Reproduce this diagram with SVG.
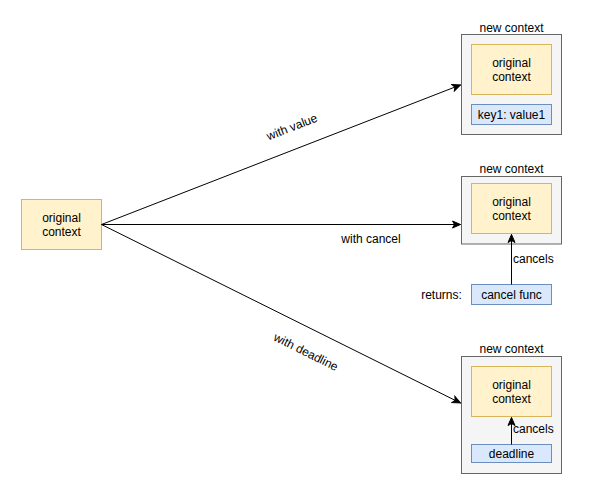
<svg xmlns="http://www.w3.org/2000/svg" width="599" height="491" viewBox="0 0 599 491">
<style>
text{font-family:"Liberation Sans",Arial,sans-serif;font-size:12px;fill:#000;text-anchor:middle}
.y{fill:#fff2cc;stroke:#d6b656;stroke-width:1}
.b{fill:#dae8fc;stroke:#6c8ebf;stroke-width:1}
.g{fill:#f5f5f5;stroke:#666666;stroke-width:1}
.e{stroke:#000;stroke-width:1;fill:none;marker-end:url(#ah)}
.l{text-anchor:start}
</style>
<defs>
<marker id="ah" markerUnits="userSpaceOnUse" markerWidth="10" markerHeight="10" viewBox="0 0 10 10" refX="9" refY="5" orient="auto">
<path d="M1,1.5 L9,5 L1,8.5 L3,5 Z" fill="#000" stroke="#000" stroke-width="1"/>
</marker>
</defs>
<rect width="599" height="491" fill="#fff"/>
<g id="orig-left">
<rect class="y" x="21.5" y="199.5" width="80" height="50"/>
<text x="61.5" y="221.5">original</text>
<text x="61.5" y="235.5">context</text>
</g>
<g id="ctx-value">
<text x="511.5" y="31.5">new context</text>
<rect class="g" x="461.5" y="34.5" width="100" height="100"/>
<rect class="y" x="471.5" y="44.5" width="80" height="50"/>
<text x="511.5" y="66.5">original</text>
<text x="511.5" y="80.5">context</text>
<rect class="b" x="471.5" y="104.5" width="80" height="20"/>
<text x="511.5" y="118.5">key1: value1</text>
</g>
<g id="ctx-cancel">
<text x="511.5" y="172.5">new context</text>
<rect class="g" x="461.5" y="176.5" width="100" height="67.5"/>
<rect class="y" x="471.5" y="183.5" width="80" height="50"/>
<text x="511.5" y="205.5">original</text>
<text x="511.5" y="219.5">context</text>
</g>
<g id="cancel-func">
<rect class="b" x="471.5" y="284.5" width="80" height="20"/>
<text x="511.5" y="298.5">cancel func</text>
<text x="441.5" y="298.5">returns:</text>
</g>
<g id="ctx-deadline">
<text x="511.5" y="353">new context</text>
<rect class="g" x="461.5" y="356.5" width="100" height="117"/>
<rect class="y" x="471.5" y="366.5" width="80" height="50"/>
<text x="511.5" y="388.5">original</text>
<text x="511.5" y="402.5">context</text>
<rect class="b" x="471.5" y="444.5" width="80" height="18"/>
<text x="511.5" y="457.5">deadline</text>
</g>
<g id="connectors">
<line class="e" x1="101.5" y1="224.5" x2="460.5" y2="84.9"/>
<line class="e" x1="101.5" y1="224.5" x2="460.5" y2="224.5"/>
<line class="e" x1="101.5" y1="224.5" x2="460.5" y2="403"/>
<line class="e" x1="511.5" y1="284.5" x2="511.5" y2="234.5"/>
<line class="e" x1="511.5" y1="444.5" x2="511.5" y2="417.5"/>
<text transform="translate(292,127) rotate(-21.25)" y="4">with value</text>
<text x="371" y="242.5">with cancel</text>
<text transform="translate(306,352) rotate(26.4)" y="4">with deadline</text>
<text class="l" x="513" y="262.5">cancels</text>
<text class="l" x="513" y="433">cancels</text>
</g>
</svg>
